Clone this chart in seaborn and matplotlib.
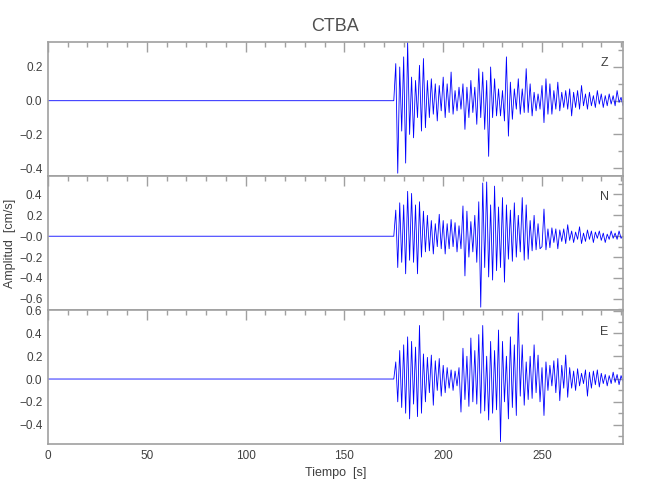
import numpy as np
import pandas as pd
import seaborn as sns
import matplotlib
matplotlib.use("Agg")
import matplotlib.pyplot as plt
from matplotlib.ticker import MultipleLocator

# CTBA station, velocity traces (cm/s); flat until the P onset near 175 s,
# then one value per second
onset = 175.0
t_end = 291.0

z_vals = [0.0, 0.22, -0.43, 0.2, -0.18, 0.26, -0.37, 0.35, -0.2, 0.14,
          -0.22, 0.12, -0.1, 0.21, -0.18, 0.25, -0.16, 0.12, -0.1, 0.13,
          -0.08, 0.1, -0.12, 0.09, -0.06, 0.14, -0.1, 0.1, -0.07, 0.17,
          -0.08, 0.06, -0.06, 0.08, -0.05, 0.1, -0.17, 0.08, -0.1, 0.12,
          -0.07, 0.08, -0.14, 0.19, -0.1, 0.17, -0.17, 0.12, -0.33, 0.2,
          -0.1, 0.13, -0.09, 0.07, -0.09, 0.06, -0.12, 0.26, -0.21, 0.11,
          -0.11, 0.07, -0.05, 0.13, -0.08, 0.07, -0.07, 0.19, -0.07, 0.1,
          -0.09, 0.05, -0.06, 0.04, -0.05, 0.09, -0.13, 0.13, -0.08, 0.1,
          -0.08, 0.06, -0.05, 0.11, -0.06, 0.05, -0.04, 0.06, -0.05, 0.07,
          -0.09, 0.05, -0.04, 0.06, -0.05, 0.09, -0.03, 0.04, -0.05, 0.05,
          -0.03, 0.03, -0.04, 0.06, -0.02, 0.04, -0.04, 0.03, -0.03, 0.04,
          -0.02, 0.03, -0.03, 0.06, -0.01, 0.02, -0.03]

n_vals = [0.0, 0.25, -0.3, 0.32, -0.25, 0.3, -0.36, 0.43, -0.23, 0.41,
          -0.25, 0.3, -0.36, 0.33, -0.2, 0.24, -0.15, 0.2, -0.14, 0.15,
          -0.17, 0.12, -0.1, 0.21, -0.12, 0.15, -0.17, 0.12, -0.12, 0.16,
          -0.1, 0.13, -0.15, 0.1, -0.12, 0.29, -0.38, 0.24, -0.2, 0.14,
          -0.15, 0.2, -0.25, 0.33, -0.68, 0.51, -0.3, 0.52, -0.39, 0.3,
          -0.42, 0.48, -0.33, 0.28, -0.3, 0.37, -0.44, 0.3, -0.22, 0.25,
          -0.24, 0.32, -0.2, 0.2, -0.15, 0.37, -0.23, 0.3, -0.22, 0.15,
          -0.14, 0.2, -0.13, 0.12, -0.12, -0.1, 0.26, -0.13, 0.07, -0.11,
          0.08, -0.06, 0.07, -0.12, 0.06, -0.05, 0.07, -0.07, 0.11, -0.04,
          0.05, -0.06, 0.04, -0.03, 0.09, -0.07, 0.03, -0.05, 0.06, -0.03,
          0.05, -0.06, 0.04, -0.02, 0.05, -0.04, 0.03, -0.06, 0.02, -0.03,
          0.05, -0.02, 0.03, -0.03, 0.05, -0.02, 0.0]

e_vals = [0.0, 0.15, -0.2, 0.25, -0.25, 0.3, -0.3, 0.37, -0.35, 0.33,
          -0.22, 0.28, -0.33, 0.47, -0.3, 0.22, -0.2, 0.19, -0.12, 0.21,
          -0.23, 0.16, -0.1, 0.18, -0.15, 0.12, -0.12, 0.1, -0.08, 0.08,
          -0.1, 0.07, -0.06, 0.1, -0.29, 0.27, -0.18, 0.2, -0.24, 0.36,
          -0.2, 0.25, -0.22, 0.39, -0.3, 0.47, -0.28, 0.2, -0.36, 0.33,
          -0.3, 0.25, -0.27, 0.43, -0.55, 0.33, -0.2, 0.2, -0.35, 0.37,
          -0.25, 0.3, -0.32, 0.58, -0.15, 0.3, -0.23, 0.15, -0.18, 0.2,
          -0.17, 0.3, -0.12, 0.21, -0.2, 0.1, -0.32, 0.15, -0.1, 0.12,
          -0.06, 0.16, -0.12, 0.18, -0.19, 0.12, -0.08, 0.21, -0.16, 0.1,
          -0.08, 0.07, -0.1, 0.09, -0.06, 0.05, -0.04, 0.08, -0.15, 0.06,
          -0.08, 0.07, -0.05, 0.08, -0.07, 0.05, -0.04, 0.04, -0.06, 0.03,
          -0.04, 0.06, -0.03, 0.04, -0.05, 0.03, -0.02]

channels = ["Z", "N", "E"]
ylims = [(-0.446, 0.35), (-0.708, 0.578), (-0.573, 0.605)]
ytick_labels = [
    ["0.2", "0.0", "\u22120.2", "\u22120.4"],
    ["0.4", "0.2", "\u22120.0", "\u22120.2", "\u22120.4", "\u22120.6"],
    ["0.6", "0.4", "0.2", "0.0", "\u22120.2", "\u22120.4"],
]
yticks = [[0.2, 0.0, -0.2, -0.4],
          [0.4, 0.2, 0.0, -0.2, -0.4, -0.6],
          [0.6, 0.4, 0.2, 0.0, -0.2, -0.4]]

sns.set_style("white")
plt.rcParams["font.family"] = ["Liberation Sans Narrow", "Liberation Sans",
                               "DejaVu Sans"]

frame_col = "#a0a0a0"
text_col = "#404040"

fig, axes = plt.subplots(3, 1, figsize=(6.5, 5), dpi=100, sharex=True)
fig.subplots_adjust(left=0.0738, right=0.9585, bottom=0.1114, top=0.9166,
                    hspace=0)

for ax, ch, vals, yl, yt, ytl in zip(axes, channels,
                                     [z_vals, n_vals, e_vals],
                                     ylims, yticks, ytick_labels):
    t = np.concatenate([[0.0], onset + np.arange(len(vals))])
    amp = np.concatenate([[0.0], vals])
    df = pd.DataFrame({"t": t, "amp": amp})
    sns.lineplot(data=df, x="t", y="amp", ax=ax, color="#0000ff",
                 linewidth=0.6, estimator=None, sort=False)
    ax.set_xlim(0, t_end)
    ax.set_ylim(*yl)
    ax.set_yticks(yt, ytl)
    ax.yaxis.set_minor_locator(MultipleLocator(0.1))
    ax.xaxis.set_major_locator(MultipleLocator(50))
    ax.xaxis.set_minor_locator(MultipleLocator(10))
    ax.tick_params(which="both", direction="in", top=True, right=True,
                   color=frame_col, labelcolor=text_col, labelsize=8.5,
                   width=1.0, pad=4)
    ax.tick_params(which="major", length=7)
    ax.tick_params(which="minor", length=3.5)
    for sp in ax.spines.values():
        sp.set_color(frame_col)
        sp.set_linewidth(1.2)
    ax.set_xlabel("")
    ax.set_ylabel("")
    ax.text(0.975, 0.84, ch, transform=ax.transAxes, ha="right",
            va="center", fontsize=9, color=text_col)

axes[0].set_title("CTBA", fontsize=13, color="#505050", pad=8)
axes[1].set_ylabel("Amplitud  [cm/s]", fontsize=9, color=text_col)
axes[1].yaxis.set_label_coords(-0.056, 0.5)
axes[2].set_xlabel("Tiempo  [s]", fontsize=9, color=text_col, labelpad=4)

fig.savefig("out.png", dpi=100)
